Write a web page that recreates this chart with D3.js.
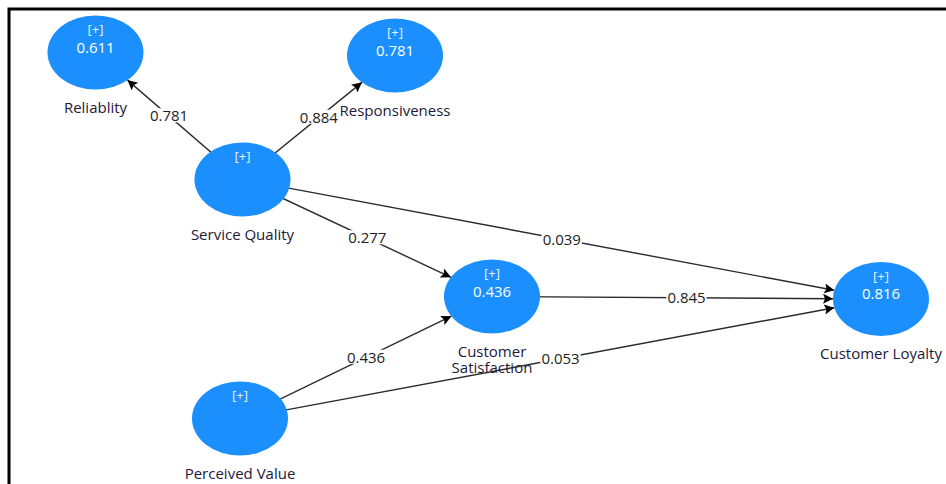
<!DOCTYPE html>
<html>
<head>
<meta charset="utf-8">
<script src="https://cdn.jsdelivr.net/npm/d3@7"></script>
<style>
  body { margin: 0; background: #fff; }
  text { font-family: "Open Sans", "DejaVu Sans", sans-serif; }
</style>
</head>
<body>
<div id="chart"></div>
<script>
// constructs of the path model
var constructs = ["Reliablity", "Responsiveness", "Service Quality", "Customer\nSatisfaction", "Customer Loyalty", "Perceived Value"];
var rSquared = ["0.611", "0.781", "", "0.436", "0.816", ""];

// structural / measurement paths
var pathFrom = [2, 2, 2, 2, 3, 5, 5];
var pathTo   = [0, 1, 3, 4, 4, 3, 4];
var pathCoef = ["0.781", "0.884", "0.277", "0.039", "0.845", "0.436", "0.053"];

// diagram layout, in model units
var layoutX = [95.5, 395, 242.5, 492, 881, 240];
var layoutY = [52.5, 55.5, 179.5, 296.5, 299, 418.5];

var width = 946, height = 484;
var rx = 48, ry = 37;

var x = d3.scaleLinear().domain([0, 946]).range([0, width]);
var y = d3.scaleLinear().domain([0, 484]).range([0, height]);

var svg = d3.select("#chart")
    .append("svg")
    .attr("width", width)
    .attr("height", height);

svg.append("defs").append("marker")
    .attr("id", "arrow")
    .attr("viewBox", "0 0 10 10")
    .attr("refX", 10)
    .attr("refY", 5)
    .attr("markerUnits", "userSpaceOnUse")
    .attr("markerWidth", 12)
    .attr("markerHeight", 10)
    .attr("orient", "auto")
    .append("path")
    .attr("d", "M0,0 L10,5 L0,10 L2,5 Z")
    .attr("fill", "#000");

// frame
svg.append("path")
    .attr("d", "M9,484 L9,9 L946,9")
    .attr("fill", "none")
    .attr("stroke", "#000")
    .attr("stroke-width", 3);

var nodes = constructs.map(function(d, i){
    return {name: d, r2: rSquared[i], cx: x(layoutX[i]), cy: y(layoutY[i])};
});

var edges = pathCoef.map(function(d, i){
    var s = nodes[pathFrom[i]], t = nodes[pathTo[i]];
    var dx = s.cx - t.cx, dy = s.cy - t.cy;
    var k = 1 / Math.sqrt((dx / rx) * (dx / rx) + (dy / ry) * (dy / ry));
    return {
        coef: d,
        x1: s.cx, y1: s.cy,
        x2: t.cx + dx * k, y2: t.cy + dy * k,
        mx: (s.cx + t.cx) / 2, my: (s.cy + t.cy) / 2
    };
});

// construct names (under the lines, as in the original)
svg.selectAll("text.name")
    .data(nodes)
    .enter()
    .append("text")
    .attr("class", "name")
    .attr("text-anchor", "middle")
    .attr("fill", "#24183a")
    .attr("font-size", 15)
    .each(function(d){
        var t = d3.select(this);
        d.name.split("\n").forEach(function(l, j){
            t.append("tspan")
                .attr("x", d.cx)
                .attr("y", d.cy + 55 + j * 16)
                .attr("dy", "0.35em")
                .text(l);
        });
    });

svg.selectAll("line.path")
    .data(edges)
    .enter()
    .append("line")
    .attr("class", "path")
    .attr("x1", function(d){return d.x1;})
    .attr("y1", function(d){return d.y1;})
    .attr("x2", function(d){return d.x2;})
    .attr("y2", function(d){return d.y2;})
    .attr("stroke", "#2b2b2b")
    .attr("stroke-width", 1.4)
    .attr("marker-end", "url(#arrow)");

var node = svg.selectAll("g.node")
    .data(nodes)
    .enter()
    .append("g")
    .attr("class", "node");

node.append("ellipse")
    .attr("cx", function(d){return d.cx;})
    .attr("cy", function(d){return d.cy;})
    .attr("rx", rx)
    .attr("ry", ry)
    .attr("fill", "#1a8ffd");

node.append("text")
    .attr("x", function(d){return d.cx;})
    .attr("y", function(d){return d.cy - 23;})
    .attr("dy", "0.35em")
    .attr("text-anchor", "middle")
    .attr("fill", "#e8f2ff")
    .attr("font-size", 13)
    .text("[+]");

node.append("text")
    .attr("x", function(d){return d.cx;})
    .attr("y", function(d){return d.cy - 5;})
    .attr("dy", "0.35em")
    .attr("text-anchor", "middle")
    .attr("fill", "#fff")
    .attr("font-size", 15)
    .text(function(d){return d.r2;});

// coefficient labels on white boxes
var lab = svg.selectAll("g.coef")
    .data(edges)
    .enter()
    .append("g")
    .attr("class", "coef");

lab.append("rect").attr("fill", "#fff");

lab.append("text")
    .attr("x", function(d){return d.mx;})
    .attr("y", function(d){return d.my;})
    .attr("dy", "0.35em")
    .attr("text-anchor", "middle")
    .attr("fill", "#222")
    .attr("font-size", 15)
    .text(function(d){return d.coef;});

lab.each(function(){
    var g = d3.select(this);
    var b = g.select("text").node().getBBox();
    g.select("rect")
        .attr("x", b.x - 1)
        .attr("y", b.y + 3)
        .attr("width", b.width + 2)
        .attr("height", b.height - 6);
});
</script>
</body>
</html>
